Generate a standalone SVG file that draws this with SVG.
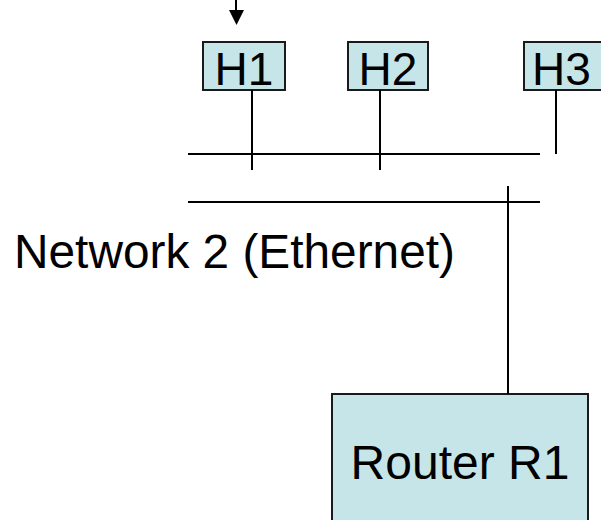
<svg xmlns="http://www.w3.org/2000/svg" width="601" height="520" viewBox="0 0 601 520">
  <defs>
    <style>
      .node rect { fill: #c5e5e8; stroke: #1a1a1a; stroke-width: 2; }
      .label { font-family: "Liberation Sans", Arial, sans-serif; fill: #000; }
      .wire { stroke: #000; stroke-width: 2; fill: none; }
    </style>
  </defs>
  <rect width="601" height="520" fill="#fff"/>

  <!-- hosts on network 2 -->
  <g id="H1" class="node">
    <rect x="203" y="42" width="82" height="48"/>
    <text class="label" x="244" y="85" font-size="46" text-anchor="middle">H1</text>
  </g>
  <g id="H2" class="node">
    <rect x="348" y="42" width="80" height="48"/>
    <text class="label" x="388" y="85" font-size="46" text-anchor="middle">H2</text>
  </g>
  <g id="H3" class="node">
    <rect x="524" y="42" width="90" height="48"/>
    <text class="label" x="532" y="85" font-size="46">H3</text>
  </g>

  <!-- router -->
  <g id="R1" class="node">
    <rect x="332" y="394" width="256" height="140"/>
    <text class="label" x="460" y="479" font-size="48" text-anchor="middle">Router R1</text>
  </g>

  <!-- network label -->
  <g id="net2">
    <text class="label" x="14" y="268" font-size="47.8">Network 2 (Ethernet)</text>
  </g>

  <!-- connectors -->
  <g id="connectors">
    <line class="wire" x1="236" y1="0" x2="236" y2="12"/>
    <polygon points="229,10 244,10 236.5,25" fill="#000"/>
    <line class="wire" x1="188" y1="154" x2="540" y2="154"/>
    <line class="wire" x1="188" y1="202" x2="540" y2="202"/>
    <line class="wire" x1="252" y1="90" x2="252" y2="170"/>
    <line class="wire" x1="380" y1="90" x2="380" y2="170"/>
    <line class="wire" x1="556" y1="90" x2="556" y2="154"/>
    <line class="wire" x1="508" y1="186" x2="508" y2="394"/>
  </g>
</svg>
